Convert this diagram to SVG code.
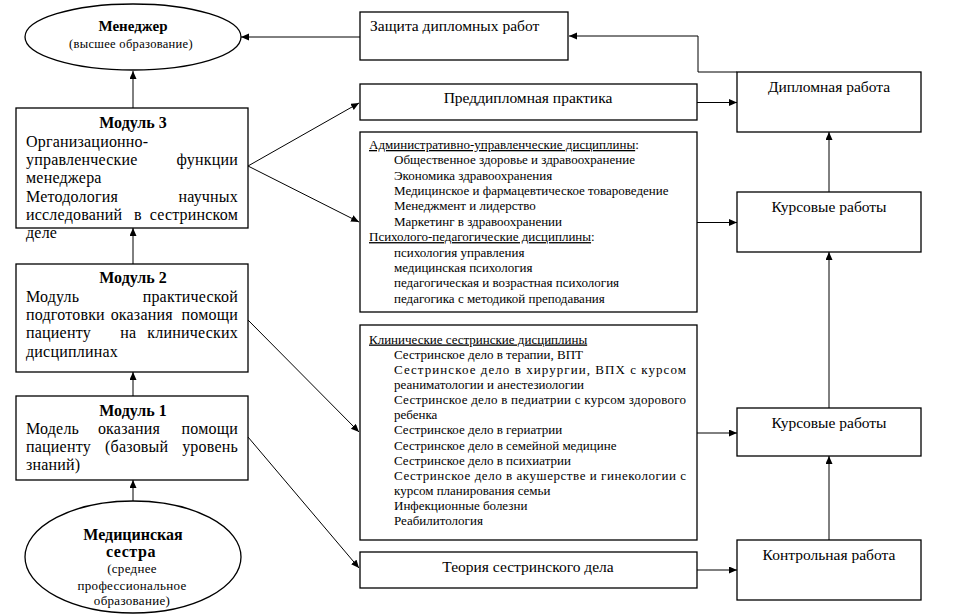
<svg xmlns="http://www.w3.org/2000/svg" width="969" height="614" viewBox="0 0 969 614">
<defs>
<marker id="ah" markerUnits="userSpaceOnUse" markerWidth="9" markerHeight="8" refX="8" refY="3.5" orient="auto">
<path d="M0,0 L8,3.5 L0,7 z" fill="#000"/>
</marker>
</defs>
<rect width="969" height="614" fill="#fff"/>

<g id="manager">
<ellipse fill="#fff" stroke="#000" stroke-width="1.3" cx="133" cy="37" rx="108" ry="33"/>
<text style="font-family:'Liberation Serif','Times New Roman',serif;font-size:15px;font-weight:bold" x="133" y="31" text-anchor="middle">Менеджер</text>
<text style="font-family:'Liberation Serif','Times New Roman',serif;font-size:12.5px;letter-spacing:0.3px" x="131" y="48" text-anchor="middle">(высшее образование)</text>
</g>

<g id="module3">
<rect fill="#fff" stroke="#000" stroke-width="1.3" x="16" y="108" width="232" height="120"/>
<text style="font-family:'Liberation Serif','Times New Roman',serif;font-size:16px;font-weight:bold" x="133" y="128" text-anchor="middle">Модуль 3</text>
<text style="font-family:'Liberation Serif','Times New Roman',serif;font-size:16px;letter-spacing:0.2px" x="26" y="146.5">Организационно-</text>
<text style="font-family:'Liberation Serif','Times New Roman',serif;font-size:16px;letter-spacing:0.2px" x="26" y="165">управленческие</text>
<text style="font-family:'Liberation Serif','Times New Roman',serif;font-size:16px;letter-spacing:0.2px" x="238" y="165" text-anchor="end">функции</text>
<text style="font-family:'Liberation Serif','Times New Roman',serif;font-size:16px;letter-spacing:0.2px" x="26" y="183.3">менеджера</text>
<text style="font-family:'Liberation Serif','Times New Roman',serif;font-size:16px;letter-spacing:0.2px" x="26" y="201.6">Методология</text>
<text style="font-family:'Liberation Serif','Times New Roman',serif;font-size:16px;letter-spacing:0.2px" x="238" y="201.6" text-anchor="end">научных</text>
<text style="font-family:'Liberation Serif','Times New Roman',serif;font-size:16px;letter-spacing:0.2px" x="26" y="220">исследований</text>
<text style="font-family:'Liberation Serif','Times New Roman',serif;font-size:16px;letter-spacing:0.2px" x="138" y="220" text-anchor="middle">в</text>
<text style="font-family:'Liberation Serif','Times New Roman',serif;font-size:16px;letter-spacing:0.2px" x="238" y="220" text-anchor="end">сестринском</text>
<text style="font-family:'Liberation Serif','Times New Roman',serif;font-size:16px;letter-spacing:0.2px" x="26" y="238.3">деле</text>
</g>

<g id="module2">
<rect fill="#fff" stroke="#000" stroke-width="1.3" x="16" y="264" width="232" height="108"/>
<text style="font-family:'Liberation Serif','Times New Roman',serif;font-size:16px;font-weight:bold" x="133" y="283.3" text-anchor="middle">Модуль 2</text>
<text style="font-family:'Liberation Serif','Times New Roman',serif;font-size:16px;letter-spacing:0.2px" x="26" y="301.7">Модуль</text>
<text style="font-family:'Liberation Serif','Times New Roman',serif;font-size:16px;letter-spacing:0.2px" x="238" y="301.7" text-anchor="end">практической</text>
<text style="font-family:'Liberation Serif','Times New Roman',serif;font-size:16px;letter-spacing:0.2px" x="26" y="320">подготовки</text>
<text style="font-family:'Liberation Serif','Times New Roman',serif;font-size:16px;letter-spacing:0.2px" x="141.7" y="320" text-anchor="middle">оказания</text>
<text style="font-family:'Liberation Serif','Times New Roman',serif;font-size:16px;letter-spacing:0.2px" x="238" y="320" text-anchor="end">помощи</text>
<text style="font-family:'Liberation Serif','Times New Roman',serif;font-size:16px;letter-spacing:0.2px" x="26" y="338.3">пациенту</text>
<text style="font-family:'Liberation Serif','Times New Roman',serif;font-size:16px;letter-spacing:0.2px" x="128.3" y="338.3" text-anchor="middle">на</text>
<text style="font-family:'Liberation Serif','Times New Roman',serif;font-size:16px;letter-spacing:0.2px" x="238" y="338.3" text-anchor="end">клинических</text>
<text style="font-family:'Liberation Serif','Times New Roman',serif;font-size:16px;letter-spacing:0.2px" x="26" y="356.7">дисциплинах</text>
</g>

<g id="module1">
<rect fill="#fff" stroke="#000" stroke-width="1.3" x="16" y="396" width="232" height="84"/>
<text style="font-family:'Liberation Serif','Times New Roman',serif;font-size:16px;font-weight:bold" x="133" y="415.7" text-anchor="middle">Модуль 1</text>
<text style="font-family:'Liberation Serif','Times New Roman',serif;font-size:16px;letter-spacing:0.2px" x="26" y="434">Модель</text>
<text style="font-family:'Liberation Serif','Times New Roman',serif;font-size:16px;letter-spacing:0.2px" x="129" y="434" text-anchor="middle">оказания</text>
<text style="font-family:'Liberation Serif','Times New Roman',serif;font-size:16px;letter-spacing:0.2px" x="238" y="434" text-anchor="end">помощи</text>
<text style="font-family:'Liberation Serif','Times New Roman',serif;font-size:16px;letter-spacing:0.2px" x="26" y="452">пациенту</text>
<text style="font-family:'Liberation Serif','Times New Roman',serif;font-size:16px;letter-spacing:0.2px" x="136.7" y="452" text-anchor="middle">(базовый</text>
<text style="font-family:'Liberation Serif','Times New Roman',serif;font-size:16px;letter-spacing:0.2px" x="238" y="452" text-anchor="end">уровень</text>
<text style="font-family:'Liberation Serif','Times New Roman',serif;font-size:16px;letter-spacing:0.2px" x="26" y="470">знаний)</text>
</g>

<g id="nurse">
<ellipse fill="#fff" stroke="#000" stroke-width="1.3" cx="133" cy="557" rx="108" ry="56"/>
<text style="font-family:'Liberation Serif','Times New Roman',serif;font-size:16px;font-weight:bold" x="133" y="540" text-anchor="middle">Медицинская</text>
<text style="font-family:'Liberation Serif','Times New Roman',serif;font-size:16px;font-weight:bold;letter-spacing:0.6px" x="131" y="556.7" text-anchor="middle">сестра</text>
<text style="font-family:'Liberation Serif','Times New Roman',serif;font-size:13px;letter-spacing:0.3px" x="132" y="573" text-anchor="middle">(среднее</text>
<text style="font-family:'Liberation Serif','Times New Roman',serif;font-size:13px;letter-spacing:0.3px" x="132" y="590" text-anchor="middle">профессиональное</text>
<text style="font-family:'Liberation Serif','Times New Roman',serif;font-size:13px;letter-spacing:0.3px" x="132" y="605" text-anchor="middle">образование)</text>
</g>

<g id="defense">
<rect fill="#fff" stroke="#000" stroke-width="1.3" x="360" y="12" width="208" height="48"/>
<text style="font-family:'Liberation Serif','Times New Roman',serif;font-size:15.5px" x="370" y="31">Защита дипломных работ</text>
</g>

<g id="prediploma">
<rect fill="#fff" stroke="#000" stroke-width="1.3" x="360" y="84" width="337" height="36"/>
<text style="font-family:'Liberation Serif','Times New Roman',serif;font-size:15.5px" x="528" y="103" text-anchor="middle">Преддипломная практика</text>
</g>

<g id="admin">
<rect fill="#fff" stroke="#000" stroke-width="1.3" x="360" y="132" width="337" height="180"/>
<text style="font-family:'Liberation Serif','Times New Roman',serif;font-size:13px" x="369" y="149"><tspan text-decoration="underline">Административно-управленческие дисциплины</tspan>:</text>
<text style="font-family:'Liberation Serif','Times New Roman',serif;font-size:13px" x="394" y="164.4">Общественное здоровье и здравоохранение</text>
<text style="font-family:'Liberation Serif','Times New Roman',serif;font-size:13px" x="394" y="179.7">Экономика здравоохранения</text>
<text style="font-family:'Liberation Serif','Times New Roman',serif;font-size:13px" x="394" y="195">Медицинское и фармацевтическое товароведение</text>
<text style="font-family:'Liberation Serif','Times New Roman',serif;font-size:13px" x="394" y="210.4">Менеджмент и лидерство</text>
<text style="font-family:'Liberation Serif','Times New Roman',serif;font-size:13px" x="394" y="225.8">Маркетинг в здравоохранении</text>
<text style="font-family:'Liberation Serif','Times New Roman',serif;font-size:13px" x="369" y="241.1"><tspan text-decoration="underline">Психолого-педагогические дисциплины</tspan>:</text>
<text style="font-family:'Liberation Serif','Times New Roman',serif;font-size:13px" x="394" y="256.5">психология управления</text>
<text style="font-family:'Liberation Serif','Times New Roman',serif;font-size:13px" x="394" y="271.8">медицинская психология</text>
<text style="font-family:'Liberation Serif','Times New Roman',serif;font-size:13px" x="394" y="287.2">педагогическая и возрастная психология</text>
<text style="font-family:'Liberation Serif','Times New Roman',serif;font-size:13px" x="394" y="302.5">педагогика с методикой преподавания</text>
</g>

<g id="clinical">
<rect fill="#fff" stroke="#000" stroke-width="1.3" x="360" y="325" width="337" height="215"/>
<text style="font-family:'Liberation Serif','Times New Roman',serif;font-size:13px;text-decoration:underline" x="369" y="343.5">Клинические сестринские дисциплины</text>
<text style="font-family:'Liberation Serif','Times New Roman',serif;font-size:13px" x="394" y="358.7">Сестринское дело в терапии, ВПТ</text>
<text style="font-family:'Liberation Serif','Times New Roman',serif;font-size:13px" x="394" y="373.8" textLength="292" lengthAdjust="spacing">Сестринское дело в хирургии, ВПХ с курсом</text>
<text style="font-family:'Liberation Serif','Times New Roman',serif;font-size:13px" x="394" y="389">реаниматологии и анестезиологии</text>
<text style="font-family:'Liberation Serif','Times New Roman',serif;font-size:13px" x="394" y="404.1" textLength="292" lengthAdjust="spacing">Сестринское дело в педиатрии с курсом здорового</text>
<text style="font-family:'Liberation Serif','Times New Roman',serif;font-size:13px" x="394" y="419.3">ребенка</text>
<text style="font-family:'Liberation Serif','Times New Roman',serif;font-size:13px" x="394" y="434.4">Сестринское дело в гериатрии</text>
<text style="font-family:'Liberation Serif','Times New Roman',serif;font-size:13px" x="394" y="449.6">Сестринское дело в семейной медицине</text>
<text style="font-family:'Liberation Serif','Times New Roman',serif;font-size:13px" x="394" y="464.7">Сестринское дело в психиатрии</text>
<text style="font-family:'Liberation Serif','Times New Roman',serif;font-size:13px" x="394" y="479.9" textLength="292" lengthAdjust="spacing">Сестринское дело в акушерстве и гинекологии с</text>
<text style="font-family:'Liberation Serif','Times New Roman',serif;font-size:13px" x="394" y="495">курсом планирования семьи</text>
<text style="font-family:'Liberation Serif','Times New Roman',serif;font-size:13px" x="394" y="510.2">Инфекционные болезни</text>
<text style="font-family:'Liberation Serif','Times New Roman',serif;font-size:13px" x="394" y="525.3">Реабилитология</text>
</g>

<g id="theory">
<rect fill="#fff" stroke="#000" stroke-width="1.3" x="360" y="552" width="337" height="36"/>
<text style="font-family:'Liberation Serif','Times New Roman',serif;font-size:15.5px" x="528" y="571.5" text-anchor="middle">Теория сестринского дела</text>
</g>

<g id="diploma">
<rect fill="#fff" stroke="#000" stroke-width="1.3" x="737" y="72" width="184" height="60"/>
<text style="font-family:'Liberation Serif','Times New Roman',serif;font-size:15.5px" x="829" y="91.7" text-anchor="middle">Дипломная работа</text>
</g>

<g id="coursework1">
<rect fill="#fff" stroke="#000" stroke-width="1.3" x="737" y="192" width="184" height="60"/>
<text style="font-family:'Liberation Serif','Times New Roman',serif;font-size:15.5px" x="829" y="212" text-anchor="middle">Курсовые работы</text>
</g>

<g id="coursework2">
<rect fill="#fff" stroke="#000" stroke-width="1.3" x="737" y="408" width="184" height="48"/>
<text style="font-family:'Liberation Serif','Times New Roman',serif;font-size:15.5px" x="829" y="428" text-anchor="middle">Курсовые работы</text>
</g>

<g id="test">
<rect fill="#fff" stroke="#000" stroke-width="1.3" x="737" y="540" width="184" height="60"/>
<text style="font-family:'Liberation Serif','Times New Roman',serif;font-size:15.5px" x="829" y="560" text-anchor="middle">Контрольная работа</text>
</g>

<g id="connectors" fill="none" stroke="#000" stroke-width="1">
<line x1="360" y1="37" x2="241" y2="37" marker-end="url(#ah)"/>
<path d="M737,72 H698 V36 H569" marker-end="url(#ah)"/>
<line x1="133" y1="108" x2="133" y2="71" marker-end="url(#ah)"/>
<line x1="133" y1="264" x2="133" y2="228" marker-end="url(#ah)"/>
<line x1="133" y1="396" x2="133" y2="372" marker-end="url(#ah)"/>
<line x1="133" y1="501" x2="133" y2="480" marker-end="url(#ah)"/>
<line x1="248" y1="166" x2="359" y2="103" marker-end="url(#ah)"/>
<line x1="248" y1="166" x2="359" y2="222" marker-end="url(#ah)"/>
<line x1="248" y1="320" x2="359" y2="432" marker-end="url(#ah)"/>
<line x1="248" y1="437" x2="359" y2="568" marker-end="url(#ah)"/>
<line x1="697" y1="102.5" x2="737" y2="102.5" marker-end="url(#ah)"/>
<line x1="697" y1="222.5" x2="737" y2="222.5" marker-end="url(#ah)"/>
<line x1="697" y1="433" x2="737" y2="433" marker-end="url(#ah)"/>
<line x1="697" y1="570" x2="737" y2="570" marker-end="url(#ah)"/>
<line x1="829" y1="192" x2="829" y2="132" marker-end="url(#ah)"/>
<line x1="829" y1="408" x2="829" y2="252" marker-end="url(#ah)"/>
<line x1="829" y1="540" x2="829" y2="456" marker-end="url(#ah)"/>
</g>
</svg>
